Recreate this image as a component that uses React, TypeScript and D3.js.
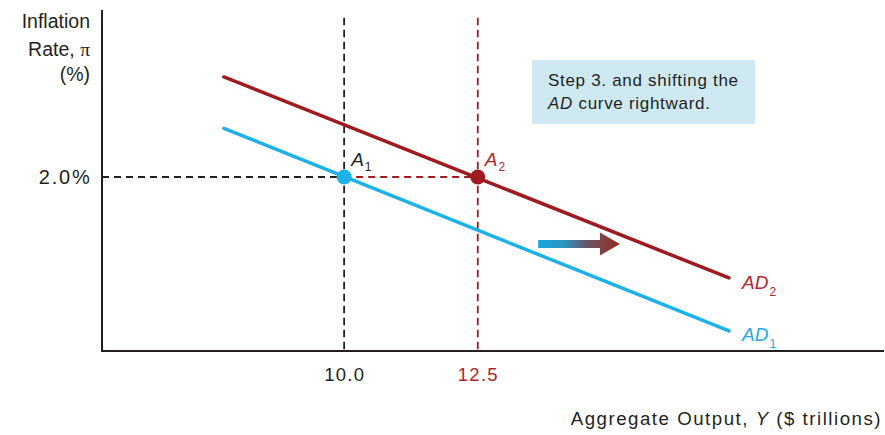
import React from "react";
import * as d3 from "d3";

// ---- data ----
const ad1X = [7.75, 17.2];
const ad1Y = [2.56, 0.23];
const ad2X = [7.75, 17.2];
const ad2Y = [3.15, 0.84];
const eqX = [10.0, 12.5];
const eqY = [2.0, 2.0];
const eqNames = ["1", "2"];
const xTickValues = [10.0, 12.5];
const xTickLabels = ["10.0", "12.5"];
const yTickValue = 2.0;
const yTickLabel = "2.0%";
const shiftArrow = [13.63, 15.16];
const shiftLevel = 1.23;

const W = 885;
const H = 435;
const xDomain = [5.47, 20.1];
const yDomain = [0, 4];
const yAxisTop = 3.92;
const guideTop = 3.83;

const BLACK = "#231f20";
const RED = "#9e1b20";
const RED_TXT = "#b0262c";
const BLUE = "#1cb1e8";
const BLUE_TXT = "#27a8e0";
const FONT = "'Liberation Sans', Arial, Helvetica, sans-serif";

export default function App() {
  const x = d3.scaleLinear().domain(xDomain).range([102, 884]);
  const y = d3.scaleLinear().domain(yDomain).range([351, 3]);
  const line = d3
    .line<[number, number]>()
    .x((d) => x(d[0]))
    .y((d) => y(d[1]));
  const ad1 = ad1X.map((v, i) => [v, ad1Y[i]] as [number, number]);
  const ad2 = ad2X.map((v, i) => [v, ad2Y[i]] as [number, number]);

  const ax0 = x(shiftArrow[0]);
  const ax1 = x(shiftArrow[1]);
  const ay = y(shiftLevel);
  const headW = 20;
  const arrowPath = `M${ax0},${ay - 4} L${ax1 - headW},${ay - 4} L${ax1 - headW},${ay - 11.5} L${ax1},${ay} L${ax1 - headW},${ay + 11.5} L${ax1 - headW},${ay + 4} L${ax0},${ay + 4} Z`;

  const guideColors = [BLACK, RED];
  const tickColors = [BLACK, RED_TXT];
  const eqColors = [BLUE, RED];
  const eqTxt = [BLACK, RED_TXT];

  return (
    <svg width={W} height={H} style={{ display: "block", position: "absolute", left: 0, top: 0 }} fontFamily={FONT}>
      <defs>
        <linearGradient id="shiftGrad" x1="0" x2="1" y1="0" y2="0">
          <stop offset="0" stopColor="#17a8dc" />
          <stop offset="0.3" stopColor="#2a97c4" />
          <stop offset="0.6" stopColor="#6a5566" />
          <stop offset="1" stopColor="#9a2a20" />
        </linearGradient>
      </defs>
      <rect width={W} height={H} fill="#ffffff" />

      {/* vertical guides */}
      {xTickValues.map((v, i) => (
        <line
          key={"vg" + i}
          x1={x(v)}
          x2={x(v)}
          y1={y(guideTop)}
          y2={y(0)}
          stroke={guideColors[i]}
          strokeWidth={1.8}
          strokeDasharray="7.5,4.5"
        />
      ))}
      {/* horizontal guides */}
      <line x1={x(xDomain[0])} x2={x(eqX[0])} y1={y(yTickValue)} y2={y(yTickValue)} stroke={BLACK} strokeWidth={1.8} strokeDasharray="7,5" />
      <line x1={x(eqX[0])} x2={x(eqX[1])} y1={y(yTickValue)} y2={y(yTickValue)} stroke={RED} strokeWidth={1.8} strokeDasharray="7,5" />

      {/* AD curves */}
      <path d={line(ad1) || ""} fill="none" stroke={BLUE} strokeWidth={3.5} strokeLinecap="round" />
      <path d={line(ad2) || ""} fill="none" stroke={RED} strokeWidth={3.5} strokeLinecap="round" />

      {/* axes */}
      <line x1={x(xDomain[0])} x2={x(xDomain[0])} y1={y(yAxisTop)} y2={y(0)} stroke={BLACK} strokeWidth={2} />
      <line x1={x(xDomain[0]) - 1} x2={x(xDomain[1])} y1={y(0)} y2={y(0)} stroke={BLACK} strokeWidth={2} />

      {/* equilibrium points */}
      {eqX.map((v, i) => (
        <g key={"eq" + i}>
          <circle cx={x(v)} cy={y(eqY[i])} r={7.5} fill={eqColors[i]} />
          <text x={x(v) + 7} y={y(eqY[i]) - 11} fontSize={19} fontStyle="italic" fill={eqTxt[i]}>
            A
            <tspan fontSize={12} fontStyle="normal" dx={1} dy={5}>
              {eqNames[i]}
            </tspan>
          </text>
        </g>
      ))}

      {/* shift arrow */}
      <path d={arrowPath} fill="url(#shiftGrad)" />

      {/* AD labels */}
      <text x={x(ad2X[1]) + 13} y={y(ad2Y[1]) + 11} fontSize={19} fontStyle="italic" fill={RED_TXT}>
        AD
        <tspan fontSize={12} fontStyle="normal" dx={1} dy={7}>2</tspan>
      </text>
      <text x={x(ad1X[1]) + 13} y={y(ad1Y[1]) + 10} fontSize={19} fontStyle="italic" fill={BLUE_TXT}>
        AD
        <tspan fontSize={12} fontStyle="normal" dx={1} dy={7}>1</tspan>
      </text>

      {/* ticks */}
      {xTickValues.map((v, i) => (
        <text key={"xt" + i} x={x(v) + 0.6} y={381} textAnchor="middle" fontSize={18.5} letterSpacing={1.3} fill={tickColors[i]}>
          {xTickLabels[i]}
        </text>
      ))}
      <text x={91.5} y={y(yTickValue) + 6.5} textAnchor="end" fontSize={20} letterSpacing={1.8} fill={BLACK}>
        {yTickLabel}
      </text>

      {/* axis titles */}
      <g fontSize={19.5} fill={BLACK} textAnchor="end">
        <text x={90} y={28}>Inflation</text>
        <text x={90} y={55.5}>
          Rate, <tspan fontFamily="'Liberation Serif', 'Times New Roman', serif">π</tspan>
        </text>
        <text x={90} y={81}>(%)</text>
      </g>
      <text x={882} y={425} textAnchor="end" fontSize={18.7} letterSpacing={1.5} fill={BLACK}>
        Aggregate Output, <tspan fontStyle="italic">Y</tspan> ($ trillions)
      </text>

      {/* annotation box */}
      <rect x={532} y={60} width={223} height={64} fill="#cfe9f2" />
      <text x={548} y={86} fontSize={17} letterSpacing={0.7} fill={BLACK}>
        Step 3. and shifting the
      </text>
      <text x={548} y={109} fontSize={17} letterSpacing={0.7} fill={BLACK}>
        <tspan fontStyle="italic">AD</tspan> curve rightward.
      </text>
    </svg>
  );
}
